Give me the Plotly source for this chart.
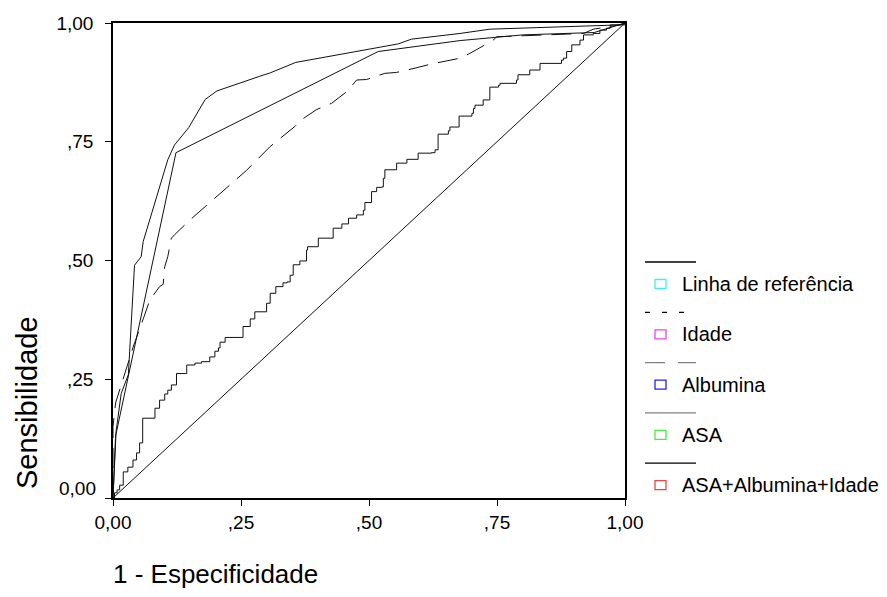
import plotly.graph_objects as go

# ROC curves: x = 1 - Especificidade, y = Sensibilidade
ref_x = [0.0, 1.0]
ref_y = [0.0, 1.0]

idade_x = [0.0, 0.003, 0.008, 0.013, 0.020, 0.029, 0.039, 0.046, 0.052, 0.058,
           0.082, 0.091, 0.101, 0.107, 0.114, 0.124, 0.144, 0.160, 0.173, 0.189,
           0.199, 0.206, 0.209, 0.219, 0.254, 0.268, 0.277, 0.300, 0.307, 0.318,
           0.332, 0.340, 0.346, 0.352, 0.365, 0.378, 0.380, 0.401, 0.430, 0.447,
           0.460, 0.476, 0.489, 0.492, 0.505, 0.515, 0.525, 0.528, 0.531, 0.554,
           0.574, 0.596, 0.622, 0.629, 0.635, 0.655, 0.658, 0.676, 0.701, 0.704,
           0.707, 0.723, 0.736, 0.753, 0.756, 0.788, 0.791, 0.814, 0.834, 0.876,
           0.880, 0.886, 0.896, 0.912, 0.919, 0.938, 0.951, 0.964, 0.971, 0.990, 1.0]
idade_y = [0.0, 0.011, 0.017, 0.027, 0.055, 0.065, 0.080, 0.095, 0.116, 0.168,
           0.189, 0.206, 0.219, 0.227, 0.238, 0.262, 0.280, 0.284, 0.287, 0.297,
           0.309, 0.316, 0.328, 0.338, 0.361, 0.377, 0.392, 0.410, 0.431, 0.445,
           0.453, 0.455, 0.469, 0.491, 0.499, 0.522, 0.529, 0.547, 0.568, 0.577,
           0.589, 0.596, 0.606, 0.622, 0.645, 0.654, 0.655, 0.673, 0.691, 0.705,
           0.713, 0.726, 0.727, 0.733, 0.766, 0.773, 0.781, 0.804, 0.810, 0.820,
           0.827, 0.838, 0.865, 0.869, 0.873, 0.880, 0.891, 0.901, 0.915, 0.922,
           0.926, 0.940, 0.954, 0.964, 0.975, 0.978, 0.985, 0.989, 0.996, 0.996, 1.0]

albumina_x = [0.0, 0.0, 0.005, 0.020, 0.040, 0.060, 0.072, 0.091, 0.098, 0.101,
              0.107, 0.114, 0.120, 0.150, 0.172, 0.199, 0.261, 0.307, 0.326, 0.355,
              0.369, 0.398, 0.427, 0.456, 0.476, 0.495, 0.531, 0.554, 0.590, 0.619,
              0.678, 0.697, 0.743, 0.749, 0.919, 0.938, 0.990, 1.0]
albumina_y = [0.0, 0.150, 0.200, 0.250, 0.320, 0.380, 0.417, 0.445, 0.450, 0.487,
              0.508, 0.547, 0.554, 0.585, 0.606, 0.631, 0.690, 0.740, 0.757, 0.782,
              0.797, 0.818, 0.831, 0.855, 0.880, 0.881, 0.894, 0.896, 0.905, 0.913,
              0.926, 0.936, 0.964, 0.971, 0.978, 0.987, 0.996, 1.0]

asa_x = [0.0, 0.005, 0.123, 0.518, 0.678, 0.800, 0.940, 1.0]
asa_y = [0.0, 0.130, 0.727, 0.940, 0.963, 0.975, 0.980, 1.0]

comb_x = [0.0, 0.006, 0.016, 0.030, 0.042, 0.055, 0.059, 0.107, 0.120, 0.148,
          0.180, 0.203, 0.287, 0.307, 0.357, 0.557, 0.583, 0.678, 0.736, 0.990, 1.0]
comb_y = [0.0, 0.140, 0.220, 0.260, 0.490, 0.508, 0.540, 0.712, 0.743, 0.780,
          0.839, 0.857, 0.888, 0.895, 0.917, 0.956, 0.966, 0.978, 0.987, 0.996, 1.0]

tick_vals = [0.0, 0.25, 0.5, 0.75, 1.0]
tick_text = ["0,00", ",25", ",50", ",75", "1,00"]

legend_names = ["Linha de referência", "Idade", "Albumina", "ASA", "ASA+Albumina+Idade"]
legend_box_colors = ["#44eeee", "#ee44ee", "#2222ee", "#44ee44", "#ee4444"]
legend_line_colors = ["#000000", "#000000", "#808080", "#808080", "#000000"]
legend_line_dash = ["solid", "5px,12px", "20px,13px", "solid", "solid"]

FONT = "Liberation Sans, Arial, sans-serif"
W, H = 887, 597
L, R, T, B = 113, 262, 23, 99
PW, PH = W - L - R, H - T - B

fig = go.Figure()

line_style = dict(color="#111111", width=1)
fig.add_trace(go.Scatter(x=ref_x, y=ref_y, mode="lines", line=line_style,
                         name=legend_names[0], cliponaxis=False))
fig.add_trace(go.Scatter(x=idade_x, y=idade_y, mode="lines",
                         line=dict(color="#111111", width=1, shape="hv"),
                         name=legend_names[1], cliponaxis=False))
fig.add_trace(go.Scatter(x=albumina_x, y=albumina_y, mode="lines",
                         line=dict(color="#111111", width=1, dash="20px,10px"),
                         name=legend_names[2], cliponaxis=False))
fig.add_trace(go.Scatter(x=asa_x, y=asa_y, mode="lines", line=line_style,
                         name=legend_names[3], cliponaxis=False))
fig.add_trace(go.Scatter(x=comb_x, y=comb_y, mode="lines", line=line_style,
                         name=legend_names[4], cliponaxis=False))


def px_x(px):
    return (px - L) / PW


def px_y(py):
    return (H - B - py) / PH


# hand-drawn legend: line sample, then coloured box and label underneath
shapes = []
annotations = []
for i, name in enumerate(legend_names):
    ly = 262 + 50.3 * i
    by = ly + 22
    shapes.append(dict(type="line", xref="paper", yref="paper",
                       x0=px_x(645), x1=px_x(696), y0=px_y(ly), y1=px_y(ly),
                       line=dict(color=legend_line_colors[i], width=1.3,
                                 dash=legend_line_dash[i])))
    shapes.append(dict(type="rect", xref="paper", yref="paper",
                       x0=px_x(655), x1=px_x(666), y0=px_y(by + 4.5), y1=px_y(by - 4.5),
                       line=dict(color=legend_box_colors[i], width=1.3),
                       fillcolor="white"))
    annotations.append(dict(text=name, xref="paper", yref="paper",
                            x=px_x(680), y=px_y(by), xanchor="left", yanchor="middle",
                            showarrow=False, font=dict(family=FONT, size=20, color="#000")))

# the lowest y label sits a little above its tick, clear of the x labels
y_tick_text = [""] + tick_text[1:]
annotations.append(dict(text=tick_text[0], xref="paper", yref="paper",
                        x=px_x(98), y=px_y(488), xanchor="right", yanchor="middle",
                        showarrow=False, font=dict(family=FONT, size=19, color="#000")))

annotations.append(dict(text="1 - Especificidade", xref="paper", yref="paper",
                        x=px_x(111), y=px_y(574), xanchor="left", yanchor="middle",
                        showarrow=False, font=dict(family=FONT, size=26, color="#000")))
annotations.append(dict(text="Sensibilidade", xref="paper", yref="paper",
                        x=px_x(27), y=px_y(403), xanchor="center", yanchor="middle",
                        textangle=-90, showarrow=False,
                        font=dict(family=FONT, size=29, color="#000")))

axis_common = dict(range=[0, 1], tickmode="array", tickvals=tick_vals,
                   showgrid=False, zeroline=False, showline=True, linecolor="#000",
                   linewidth=1.5, mirror=True, ticks="outside", ticklen=6,
                   tickcolor="#000", tickwidth=1, fixedrange=True,
                   tickfont=dict(family=FONT, size=19, color="#000"))

fig.update_layout(
    width=W, height=H,
    margin=dict(l=L, r=R, t=T, b=B, pad=0),
    paper_bgcolor="white", plot_bgcolor="white",
    showlegend=False,
    xaxis=dict(axis_common, ticktext=tick_text, ticklabelstandoff=0),
    yaxis=dict(axis_common, ticktext=y_tick_text, ticklabelstandoff=8),
    shapes=shapes,
    annotations=annotations,
)

fig.write_html("out.html", config={"displayModeBar": False})
